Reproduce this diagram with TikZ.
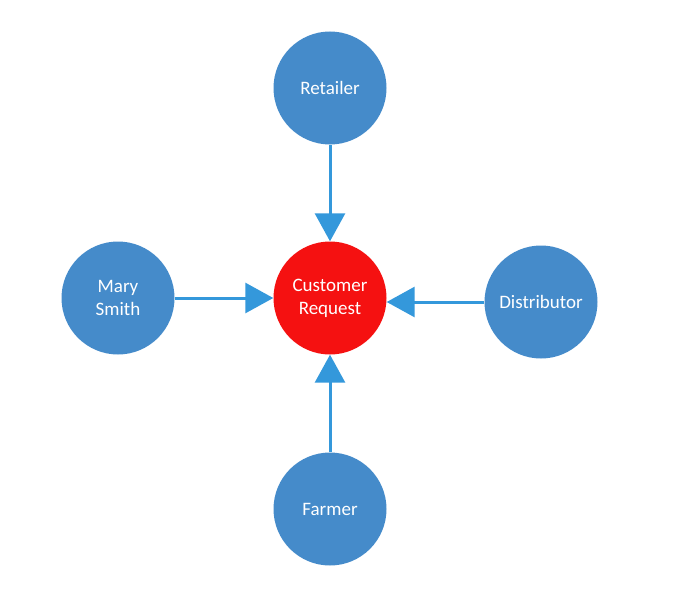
\documentclass[tikz,border=0pt]{standalone}
\usepackage{fontspec}
\setmainfont{Carlito}
\usepackage{tikz}
\usepackage{xcolor}
\usetikzlibrary{positioning, calc, arrows.meta}

\definecolor{partyblue}{RGB}{69,139,202}
\definecolor{linkblue}{RGB}{52,152,219}
\definecolor{requestred}{RGB}{245,17,17}

\tikzset{
  party/.style={circle, fill=partyblue, text=white, minimum size=113pt, inner sep=0pt, align=center, font=\fontsize{19}{23}\selectfont},
  request/.style={party, fill=requestred},
  link/.style={line width=3pt, linkblue, -{Triangle[length=28pt,width=30pt]}}
}

\begin{document}
\begin{tikzpicture}[x=1pt,y=-1pt]
        \useasboundingbox (0,0) rectangle (674,602);
        \node[request] (req) at (330,298) {Customer\\Request};
        \node[party] (retailer) at (330,88) {Retailer};
        \node[party] (mary) at (118,298) {Mary\\Smith};
        \node[party] (dist) at (541,302) {Distributor};
        \node[party] (farmer) at (330,509) {Farmer};
        \draw[link] (retailer) -- (req);
        \draw[link] (mary) -- (req);
        \draw[link] (dist.west) -- (req.east |- dist.west);
        \draw[link] (farmer) -- (req);
    \end{tikzpicture}
\end{document}
